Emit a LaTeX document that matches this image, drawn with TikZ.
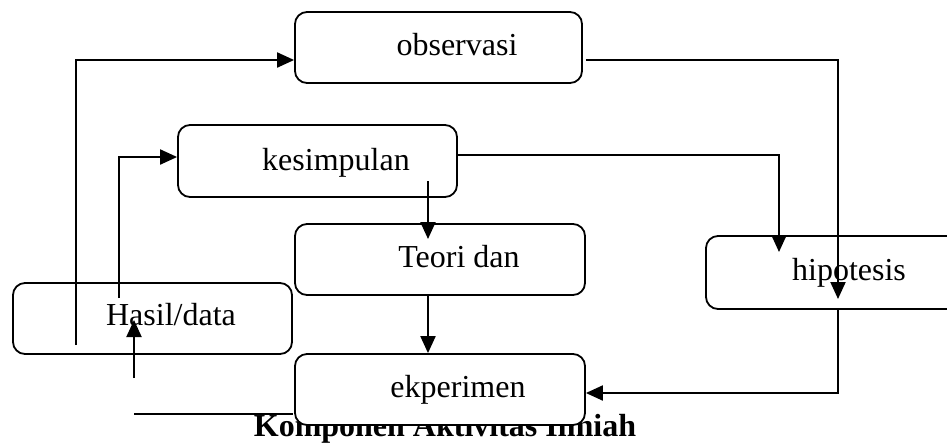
\documentclass[tikz,border=0pt]{standalone}
\usepackage{fontspec}
\setmainfont{Liberation Serif}
\usetikzlibrary{arrows.meta}
\begin{document}
\begin{tikzpicture}[x=0.5pt,y=-0.5pt,
  box/.style={draw, line width=0.9pt, rounded corners=6pt, fill=white, inner sep=0pt},
  lbl/.style={anchor=base, inner sep=0pt, font=\fontsize{16}{19}\selectfont},
  captext/.style={anchor=base, inner sep=0pt, font=\fontsize{16}{19}\selectfont\bfseries},
  conn/.style={line width=1pt},
  arr/.style={line width=1pt, -{Triangle[length=8.5pt,width=7.5pt]}}]
\useasboundingbox (0,0) rectangle (947,446);
\clip (0,0) rectangle (947,446);
\fill[white] (0,0) rectangle (947,446);
% caption (partly covered by the ekperimen box)
\node[captext] (caption) at (445,436) {Komponen Aktivitas Ilmiah};
% boxes
\node[box, minimum width=143.5pt, minimum height=35.5pt] (obs) at (438.5,47.5) {};
\node[box, minimum width=139.5pt, minimum height=36pt] (kes) at (317.5,161) {};
\node[box, minimum width=145pt, minimum height=35.5pt] (teo) at (440,259.5) {};
\node[box, minimum width=139.5pt, minimum height=35.5pt] (has) at (152.5,318.5) {};
\node[box, minimum width=137pt, minimum height=36.5pt] (hip) at (843,272.5) {};
\node[box, minimum width=145pt, minimum height=35.5pt] (eks) at (440,389.5) {};
% texts
\node[lbl] (obst) at (457,55) {observasi};
\node[lbl] (kest) at (336,170) {kesimpulan};
\node[lbl] (teot) at (459,267) {Teori dan};
\node[lbl] (hast) at (171,325) {Hasil/data};
\node[lbl] (hipt) at (849,280) {hipotesis};
\node[lbl] (ekst) at (458,397) {ekperimen};
% free ends
\coordinate (a1) at (76,345);
\coordinate (a2) at (119,298);
\coordinate (hiptip) at (838,299);
\coordinate (h2) at (838,308);
\coordinate (hiptop) at (779,252);
\coordinate (k1) at (428,181);
\coordinate (t1) at (428,239);
\coordinate (b1) at (134,378);
\coordinate (b2) at (134,320);
\coordinate (b3) at (134,414);
% connectors
\draw[arr] (a1) |- ([yshift=-6.25pt]obs.west);
\draw[arr] (a2) |- ([yshift=2pt]kes.west);
\draw[arr] ([xshift=1.5pt,yshift=-6.25pt]obs.east) -| (hiptip);
\draw[arr] (h2) |- ([yshift=-1.75pt]eks.east);
\draw[arr] ([yshift=3pt]kes.east) -| (hiptop);
\draw[arr] (k1) -- (t1);
\draw[arr] (teo.south -| k1) -- (eks.north -| k1);
\draw[arr] (b1) -- (b2);
\draw[conn] (b3) -- (has.south east |- b3);
\end{tikzpicture}
\end{document}
